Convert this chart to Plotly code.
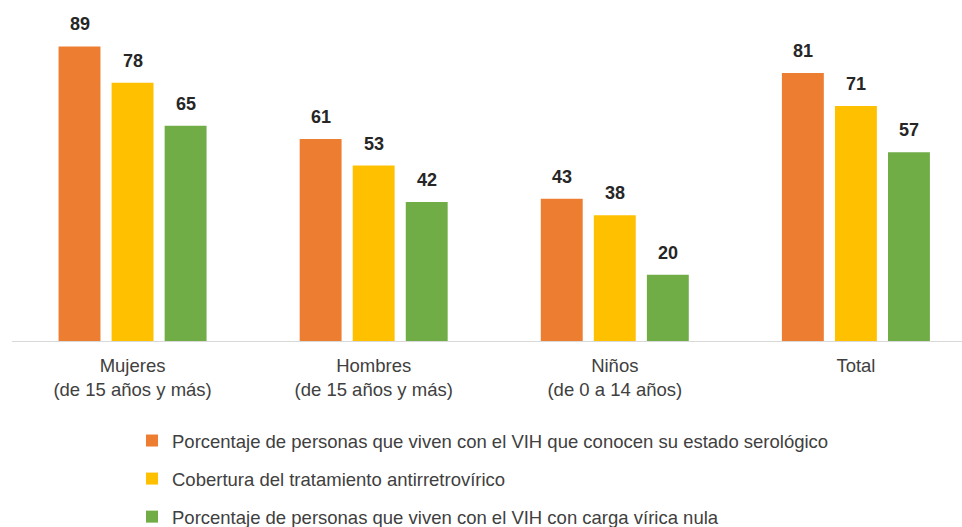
import plotly.graph_objects as go

categories = ["Mujeres<br>(de 15 años y más)", "Hombres<br>(de 15 años y más)",
              "Niños<br>(de 0 a 14 años)", "Total"]
series_names = [
    "Porcentaje de personas que viven con el VIH que conocen su estado serológico",
    "Cobertura del tratamiento antirretrovírico",
    "Porcentaje de personas que viven con el VIH con carga vírica nula",
]
conocen = [89, 61, 43, 81]
tratamiento = [78, 53, 38, 71]
carga_nula = [65, 42, 20, 57]
colors = ["#ED7D31", "#FFC000", "#70AD47"]

series = [conocen, tratamiento, carga_nula]

FONT = "Liberation Sans"
bargap = 0.34
n = len(series)
slot = (1 - bargap) / n

fig = go.Figure()
annotations = []
for j, (name, vals, col) in enumerate(zip(series_names, series, colors)):
    fig.add_trace(go.Bar(
        x=list(range(len(categories))), y=vals, name=name,
        marker=dict(color=col, line=dict(width=0)),
        legendgroup=f"g{j}", hoverinfo="skip",
    ))
    for i, v in enumerate(vals):
        annotations.append(dict(
            x=i + (j - (n - 1) / 2) * slot, y=v, xref="x", yref="y",
            text=f"<b>{v}</b>", showarrow=False, yanchor="middle", yshift=22,
            font=dict(family=FONT, size=18, color="#262626"),
        ))

fig.update_layout(
    width=962, height=527,
    margin=dict(l=12, r=0, t=10, b=186, autoexpand=False),
    paper_bgcolor="white", plot_bgcolor="white",
    barmode="group", bargap=bargap, bargroupgap=0.21,
    font=dict(family=FONT, size=18.5, color="#404040"),
    xaxis=dict(
        tickmode="array", tickvals=list(range(len(categories))), ticktext=categories,
        range=[-0.5, 3.44], showline=True, linecolor="#D9D9D9", linewidth=1,
        showgrid=False, zeroline=False, ticks="", ticklabelstandoff=8, tickangle=0,
        automargin=False,
        tickfont=dict(family=FONT, size=18.5, color="#404040"),
    ),
    yaxis=dict(range=[0, 100], visible=False, showgrid=False, zeroline=False, automargin=False),
    legend=dict(
        orientation="v", xref="container", yref="container",
        x=132 / 962, y=1 - 422 / 527, xanchor="left", yanchor="top",
        font=dict(family=FONT, size=18.5, color="#404040"),
        tracegroupgap=11, itemwidth=30,
    ),
    annotations=annotations,
)

fig.write_html("out.html", config={"displayModeBar": False},
               post_script="document.body.style.margin='0';")
